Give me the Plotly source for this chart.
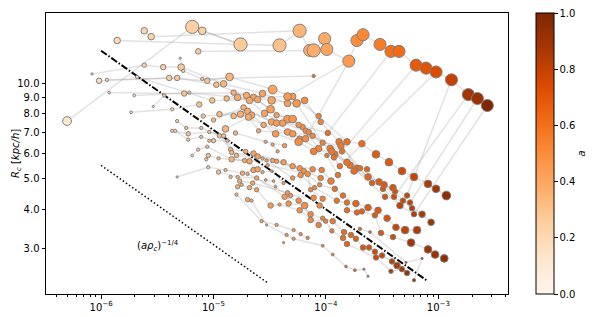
import math
import plotly.graph_objects as go

# ---------------- data ----------------
# core density rho_c, core radius R_c [kpc/h], scale factor a, marker size; one line per halo track
rho = [
    4.98e-7, 6.47e-6, 1.74e-5, 3.87e-5, 5.84e-5, 7.17e-5, 7.78e-5, 9.75e-5, 1.02e-4, 1.60e-4, 1.89e-4, 2.14e-4, 3.03e-4, 3.79e-4, 4.47e-4, 6.34e-4, 7.78e-4, 9.55e-4, 1.31e-3, 1.85e-3, 2.23e-3, 2.73e-3,
    2.42e-6, 2.79e-6,
    1.39e-6,
    7.94e-6,
    7.31e-6,
    9.6e-7, 4.04e-6, 8.80e-6, 1.39e-5, 3.36e-5, 5.06e-5, 8.62e-5, 1.54e-4, 2.09e-4, 2.79e-4, 3.64e-4, 4.75e-4, 6.08e-4, 8.10e-4, 9.55e-4, 1.18e-3,
    8.3e-7, 2.42e-6, 3.57e-6, 5.16e-6, 1.23e-5, 2.73e-5, 4.56e-5, 6.47e-5, 8.98e-5, 1.31e-4, 1.89e-4, 2.37e-4, 3.29e-4, 4.04e-4,
    1.13e-6, 4.75e-6, 1.06e-5, 1.97e-5, 3.29e-5, 5.49e-5, 9.36e-5, 1.36e-4, 2.01e-4, 2.57e-4, 3.95e-4, 5.27e-4,
    1.18e-6, 5.49e-6, 1.51e-5, 2.27e-5, 3.22e-5, 4.56e-5, 6.21e-5, 8.62e-5, 1.20e-4, 1.78e-4, 2.97e-4, 4.12e-4, 4.85e-4, 5.84e-4, 7.17e-4, 8.62e-4,
    1.97e-6, 6.08e-6, 1.64e-5, 2.09e-5, 2.85e-5, 4.12e-5, 6.60e-5, 1.09e-4, 1.64e-4, 2.32e-4, 3.22e-4, 4.56e-4, 6.08e-4,
    2.09e-6, 9.75e-6, 2.47e-5, 3.64e-5, 5.06e-5, 7.02e-5, 1.13e-4, 1.54e-4, 3.36e-4, 5.60e-4,
    8.10e-6, 1.74e-5, 2.79e-5, 4.56e-5, 7.62e-5, 1.39e-4,
    1.0e-5, 1.85e-5, 3.29e-5, 5.72e-5, 1.04e-4,
    1.13e-5, 2.01e-5, 3.64e-5, 5.84e-5, 1.18e-4, 1.33e-4,
    1.51e-5, 2.18e-5, 3.57e-5, 5.72e-5, 7.78e-5, 1.02e-4, 1.28e-4,
    1.28e-5, 2.05e-5, 2.52e-5, 5.06e-5, 6.60e-5,
    1.57e-5, 2.91e-5, 4.29e-5,
    1.31e-5, 4.56e-5,
    1.85e-6, 4.29e-6, 7.47e-6,
    2.91e-6, 3.64e-6,
    5.06e-6, 5.38e-6, 7.94e-6, 7.78e-5,
    4.75e-6, 5.72e-6, 7.78e-6, 1.13e-5, 1.42e-5, 1.93e-5, 2.27e-5, 4.20e-5, 5.06e-5, 7.62e-5, 9.17e-5, 1.11e-4,
    4.29e-6, 5.96e-6, 9.17e-6, 1.23e-5, 1.45e-5, 2.47e-5, 3.64e-5, 5.84e-5, 8.98e-5,
    4.56e-6, 5.96e-6, 7.78e-6, 1.0e-5, 1.33e-5, 1.60e-5, 2.73e-5, 3.36e-5, 6.34e-5, 8.80e-5, 1.20e-4, 1.42e-4, 1.85e-4, 2.37e-4, 2.91e-4, 3.50e-4, 4.20e-4, 5.06e-4, 6.47e-4,
    6.47e-6, 7.31e-6, 8.80e-6, 1.45e-5, 2.09e-5, 2.97e-5, 5.06e-5, 5.96e-5, 7.94e-5, 1.25e-4, 1.54e-4, 1.54e-4, 1.89e-4, 2.09e-4, 2.73e-4, 3.09e-4, 3.95e-4, 5.72e-4, 8.10e-4, 9.36e-4, 1.13e-3,
    4.75e-6, 8.98e-6, 1.28e-5, 1.81e-5, 2.27e-5, 3.03e-5, 6.88e-5, 7.31e-5, 9.36e-5,
    1.11e-5, 1.64e-5, 2.42e-5, 4.29e-5, 5.72e-5, 7.31e-5, 9.36e-5, 1.15e-4, 1.45e-4, 1.67e-4, 1.85e-4, 2.14e-4, 2.42e-4, 2.73e-4, 3.16e-4, 3.87e-4, 4.29e-4, 5.27e-4,
    1.71e-5, 2.23e-5, 4.56e-5, 4.66e-5, 6.47e-5, 7.31e-5, 9.95e-5, 1.13e-4, 1.42e-4, 1.54e-4, 2.79e-4, 3.79e-4, 4.75e-4,
    1.64e-5, 1.78e-5, 2.09e-5, 2.42e-5, 3.22e-5, 3.87e-5, 5.84e-5, 8.62e-5,
    2.01e-5, 4.85e-5, 7.78e-5, 8.80e-5,
    8.62e-6, 8.98e-6, 1.11e-5, 1.89e-5, 2.47e-5,
    1.42e-5,
    1.60e-5, 2.68e-5, 3.64e-5, 5.16e-5, 5.96e-5, 6.88e-5,
    2.01e-5, 2.18e-5, 2.97e-5, 4.47e-5, 5.16e-5, 9.36e-5, 1.15e-4, 1.51e-4, 1.81e-4, 2.18e-4, 2.37e-4,
    2.73e-5, 3.29e-5, 4.20e-5,
    2.91e-5, 3.42e-5, 3.57e-5,
    2.01e-4, 2.47e-4, 5.16e-4, 7.17e-4, 6.08e-4,
    9.17e-6,
    3.36e-5, 3.72e-5,
    4.20e-5,
]
rc = [
    7.59, 15.04, 13.24, 13.15, 14.62, 12.68, 12.68, 13.81, 12.77, 11.73, 13.62, 14.21, 13.24, 12.59, 12.59, 11.39, 11.15, 10.84, 10.24, 9.20, 8.94, 8.50,
    14.62, 14.01,
    13.62,
    14.62,
    12.59,
    10.17, 10.38, 10.17, 10.46, 9.54, 9.07, 7.87, 6.53, 6.44, 5.96, 5.63, 5.28, 5.06, 4.81, 4.64, 4.42,
    10.69, 11.39, 11.23, 11.23, 9.95, 9.27, 8.63, 8.82, 7.54, 6.53, 5.39, 5.06, 4.78, 4.38,
    10.24, 10.38, 9.88, 9.14, 8.82, 8.63, 6.49, 6.35, 5.39, 4.84, 4.68, 4.42,
    9.33, 9.27, 9.33, 9.01, 8.27, 7.70, 7.27, 6.22, 5.96, 5.28, 4.88, 4.55, 4.26, 4.03, 3.86, 3.64,
    9.14, 9.33, 9.01, 8.82, 8.03, 7.48, 7.07, 6.22, 5.51, 5.35, 4.64, 4.11, 3.86,
    10.46, 8.82, 8.88, 7.92, 7.70, 7.01, 6.09, 5.63, 4.38, 4.20,
    7.87, 7.98, 7.38, 7.01, 6.82, 6.09,
    7.65, 8.38, 7.54, 7.38, 6.96,
    7.98, 8.15, 7.48, 6.68, 5.83, 5.47,
    7.87, 7.92, 6.92, 6.53, 6.09, 5.91, 5.13,
    7.17, 7.81, 7.07, 6.92, 6.68,
    6.96, 6.53, 6.35,
    8.94, 9.07,
    8.09, 8.27, 8.56,
    8.44, 9.14,
    11.98, 10.92, 10.31, 10.53,
    7.59, 7.22, 7.22, 6.82, 6.17, 6.09, 6.00, 5.63, 5.47, 5.35, 5.32, 4.91,
    7.07, 6.92, 7.01, 6.82, 6.04, 5.87, 5.67, 5.39, 5.02,
    7.07, 6.63, 6.77, 6.58, 6.58, 5.91, 5.79, 5.70, 5.28, 4.78, 4.64, 4.42, 4.17, 4.05, 3.97, 3.75, 3.51, 3.44, 3.44,
    5.91, 6.17, 6.30, 5.75, 5.67, 5.70, 5.02, 5.13, 4.68, 4.26, 4.20, 3.97, 3.91, 3.94, 3.83, 3.37, 3.27, 3.14, 2.99, 2.88, 2.80,
    5.06, 5.43, 5.32, 5.20, 5.32, 5.51, 5.17, 4.61, 4.32,
    5.24, 5.06, 5.02, 4.38, 4.26, 3.86, 3.75, 3.67, 3.39, 3.32, 3.23, 3.03, 3.03, 2.94, 2.86, 2.74, 2.66, 2.52,
    4.91, 4.84, 4.51, 4.17, 4.11, 3.70, 3.67, 3.42, 3.25, 3.11, 2.82, 2.55, 2.59,
    4.71, 4.78, 4.68, 4.61, 4.11, 4.14, 3.97, 3.57,
    5.17, 4.42, 4.35, 4.11,
    5.75, 5.91, 5.79, 5.70, 5.35,
    5.06,
    4.45, 3.67, 3.57, 3.44, 3.34, 3.25,
    4.29, 4.26, 3.57, 3.32, 3.23, 3.07, 2.88, 2.64, 2.57, 2.59, 2.46,
    5.24, 5.28, 4.84,
    4.95, 4.91, 4.71,
    3.47, 3.39, 2.72, 2.80, 2.39,
    6.58,
    6.40, 6.09,
    3.14,
]
a_val = [
    0.12, 0.25, 0.27, 0.30, 0.35, 0.37, 0.38, 0.39, 0.41, 0.45, 0.50, 0.52, 0.56, 0.60, 0.62, 0.68, 0.71, 0.74, 0.80, 0.88, 0.92, 1.00,
    0.22, 0.23,
    0.20,
    0.25,
    0.27,
    0.18, 0.26, 0.30, 0.35, 0.42, 0.46, 0.55, 0.60, 0.62, 0.68, 0.70, 0.75, 0.78, 0.85, 0.88, 0.95,
    0.15, 0.22, 0.25, 0.27, 0.35, 0.42, 0.45, 0.50, 0.55, 0.58, 0.62, 0.65, 0.70, 0.75,
    0.18, 0.28, 0.33, 0.40, 0.42, 0.47, 0.55, 0.58, 0.62, 0.67, 0.72, 0.78,
    0.18, 0.30, 0.37, 0.42, 0.43, 0.45, 0.50, 0.55, 0.60, 0.62, 0.68, 0.73, 0.78, 0.82, 0.86, 0.90,
    0.20, 0.30, 0.40, 0.40, 0.42, 0.45, 0.50, 0.58, 0.60, 0.65, 0.70, 0.80, 0.84,
    0.20, 0.32, 0.42, 0.43, 0.47, 0.52, 0.58, 0.60, 0.72, 0.80,
    0.30, 0.38, 0.40, 0.45, 0.53, 0.60,
    0.32, 0.38, 0.43, 0.48, 0.60,
    0.33, 0.40, 0.45, 0.50, 0.60, 0.61,
    0.35, 0.40, 0.45, 0.50, 0.55, 0.58, 0.59,
    0.35, 0.40, 0.41, 0.47, 0.50,
    0.35, 0.40, 0.45,
    0.35, 0.45,
    0.18, 0.25, 0.30,
    0.20, 0.24,
    0.22, 0.25, 0.28, 0.60,
    0.25, 0.28, 0.30, 0.32, 0.35, 0.40, 0.42, 0.45, 0.47, 0.52, 0.55, 0.56,
    0.25, 0.30, 0.30, 0.33, 0.35, 0.43, 0.45, 0.48, 0.55,
    0.25, 0.28, 0.30, 0.32, 0.33, 0.36, 0.42, 0.43, 0.50, 0.53, 0.60, 0.61, 0.65, 0.68, 0.70, 0.72, 0.78, 0.80, 0.85,
    0.25, 0.28, 0.30, 0.36, 0.42, 0.43, 0.47, 0.50, 0.52, 0.60, 0.62, 0.63, 0.65, 0.67, 0.69, 0.70, 0.75, 0.88, 0.90, 0.92, 0.95,
    0.20, 0.30, 0.33, 0.38, 0.43, 0.43, 0.50, 0.52, 0.55,
    0.32, 0.36, 0.43, 0.45, 0.50, 0.52, 0.55, 0.58, 0.62, 0.64, 0.66, 0.70, 0.72, 0.75, 0.78, 0.82, 0.85, 0.90,
    0.37, 0.42, 0.47, 0.48, 0.50, 0.52, 0.55, 0.58, 0.62, 0.65, 0.76, 0.85, 0.87,
    0.37, 0.38, 0.40, 0.43, 0.45, 0.45, 0.50, 0.55,
    0.38, 0.48, 0.52, 0.53,
    0.28, 0.30, 0.32, 0.40, 0.43,
    0.35,
    0.35, 0.42, 0.45, 0.48, 0.50, 0.52,
    0.40, 0.41, 0.43, 0.47, 0.48, 0.55, 0.58, 0.62, 0.65, 0.68, 0.70,
    0.40, 0.42, 0.45,
    0.42, 0.43, 0.45,
    0.62, 0.65, 0.80, 0.85, 0.90,
    0.30,
    0.42, 0.43,
    0.50,
]
msize = [
    8, 12, 12, 12, 12, 11, 12, 11, 11, 11, 11, 11, 11, 11, 11, 11, 11, 11, 11, 11, 11, 11,
    6, 6,
    6,
    7,
    5,
    5, 5, 5, 7, 8, 6, 5, 6, 6, 7, 7, 7, 7, 7, 7, 8,
    2, 4, 5, 6, 6, 6, 6, 6, 5, 6, 6, 6, 6, 5,
    3, 5, 5, 6, 7, 7, 5, 6, 5, 5, 6, 5,
    2.5, 5, 5, 6, 7, 7, 5, 6, 6, 6, 6, 5, 5, 5, 6, 6,
    2.5, 3, 6, 6, 6, 6, 5, 6, 6, 5, 5, 6, 5,
    3, 5, 6, 5, 7, 5, 6, 6, 5, 5,
    4, 6, 5, 6, 5, 5,
    4, 5, 6, 5, 5,
    5, 6, 6, 5, 5, 5,
    5, 6, 6, 7, 6, 4, 5,
    6, 6, 4, 6, 6,
    4, 3, 4,
    5, 7,
    2.5, 3, 5,
    2, 3,
    2, 3, 3, 3,
    3, 3, 3, 4, 4, 4, 5, 5, 5, 5, 5, 6,
    3, 4, 3, 4, 4, 5, 4, 5, 5,
    3, 3, 3, 4, 3, 4, 3, 4, 5, 4, 5, 5, 6, 6, 6, 6, 6, 7, 7,
    2.5, 3, 3, 5, 5, 3, 4, 5, 4, 5, 5, 5, 5, 5, 5, 5, 5, 7, 7, 7, 7,
    2, 3, 3, 4, 5, 3, 5, 4, 5,
    4, 3, 4, 5, 5, 5, 4, 5, 5, 5, 5, 5, 5, 5, 5, 5, 6, 5,
    4, 4, 4, 5, 6, 5, 4, 4, 5, 5, 5, 4, 5,
    4, 3, 4, 4, 5, 3, 5, 5,
    3, 4, 5, 5,
    3, 4, 3, 4, 5,
    3,
    3, 3, 3, 3, 3, 3,
    4, 3, 2, 3, 3, 2.5, 2.5, 2.5, 2.5, 2, 2,
    3, 2.5, 3,
    2.5, 2.5, 2.5,
    3, 2.5, 2, 2, 3,
    3,
    3, 3,
    2,
]
# number of points in each halo track (in the order above)
halo_sizes = [22, 2, 1, 1, 1, 16, 14, 12, 16, 13, 10, 6, 5, 6, 7, 5, 3, 2, 3, 2, 4,
              12, 9, 19, 21, 9, 18, 13, 8, 4, 5, 1, 6, 11, 3, 3, 5, 1, 2, 1]
# halos merging into the main halo (track 0) at scale factor merge_at_a
merge_halo = [1, 2, 3, 4, 6, 7, 9, 10, 11, 12, 13, 15, 17]
merge_at_a = [0.35, 0.27, 0.27, 0.38, 0.88, 0.80, 1.00, 0.92, 0.68, 0.60, 0.74, 0.45, 0.45]

# reference power laws R ~ amp * rho^slope
guide_slope = -0.25
dashdot_rho = [1.0e-6, 8.0e-4]
dashdot_amp = 0.40
dotted_rho = [1.0e-6, 3.0e-5]
dotted_amp = 0.174
label_rho, label_rc = 3.2e-6, 3.07

x_tickvals = [1e-6, 1e-5, 1e-4, 1e-3]
x_ticktext = ["10<sup>−6</sup>", "10<sup>−5</sup>", "10<sup>−4</sup>", "10<sup>−3</sup>"]
y_tickvals = [3, 4, 5, 6, 7, 8, 9, 10]
y_ticktext = ["3.0", "4.0", "5.0", "6.0", "7.0", "8.0", "9.0", "10.0"]
cb_tickvals = [0.0, 0.2, 0.4, 0.6, 0.8, 1.0]
cb_ticktext = ["0.0", "0.2", "0.4", "0.6", "0.8", "1.0"]

oranges = ["#fff5eb", "#fee6ce", "#fdd0a2", "#fdae6b", "#fd8d3c",
           "#f16913", "#d94801", "#a63603", "#7f2704"]
colorscale = [[i / 8, c] for i, c in enumerate(oranges)]

# ---------------- build figure ----------------
halo = []
for h, n in enumerate(halo_sizes):
    halo += [h] * n
N = len(rho)
assert len(rc) == N and len(a_val) == N and len(msize) == N and len(halo) == N, (N, len(rc), len(a_val), len(msize), len(halo))

fig = go.Figure()
FONT = "DejaVu Sans"
FS = 10
line_col = "rgba(150,150,150,0.28)"

main_idx = [i for i in range(N) if halo[i] == 0]
for h in range(len(halo_sizes)):
    idx = sorted([i for i in range(N) if halo[i] == h], key=lambda i: a_val[i])
    if h in merge_halo:
        ta = merge_at_a[merge_halo.index(h)]
        j = min(main_idx, key=lambda k: abs(a_val[k] - ta))
        idx = idx + [j]
    if len(idx) < 2:
        continue
    fig.add_trace(go.Scatter(
        x=[rho[i] for i in idx], y=[rc[i] for i in idx], mode="lines",
        line=dict(color=line_col, width=1.5), hoverinfo="skip", showlegend=False))

# guide lines
fig.add_trace(go.Scatter(
    x=dashdot_rho, y=[dashdot_amp * r ** guide_slope for r in dashdot_rho], mode="lines",
    line=dict(color="black", width=2, dash="7px,2px,1.5px,2px"), showlegend=False))
fig.add_trace(go.Scatter(
    x=dotted_rho, y=[dotted_amp * r ** guide_slope for r in dotted_rho], mode="lines",
    line=dict(color="black", width=1.5, dash="1.5px,2.3px"), showlegend=False))

fig.add_trace(go.Scatter(
    x=rho, y=rc, mode="markers", showlegend=False,
    marker=dict(size=[s * 1.1 for s in msize], color=a_val, colorscale=colorscale,
                cmin=0.0, cmax=1.0,
                line=dict(color="grey", width=1), opacity=1,
                colorbar=dict(thickness=18, len=1.0, lenmode="fraction", y=0.5, yanchor="middle",
                              x=1.061, xanchor="left", xpad=0, ypad=0,
                              outlinewidth=1, outlinecolor="black",
                              tickmode="array", tickvals=cb_tickvals, ticktext=cb_ticktext,
                              ticks="outside", ticklen=3.5, tickwidth=1, tickcolor="black",
                              ticklabeloverflow="allow",
                              tickfont=dict(family=FONT, size=FS, color="black"))),
))

fig.add_annotation(x=math.log10(label_rho), y=math.log10(label_rc), xref="x", yref="y",
                   text="(<i>aρ</i><sub><i>c</i></sub>)<sup>−1/4</sup>", showarrow=False,
                   font=dict(family=FONT, size=FS, color="black"))
fig.add_annotation(x=-38 / 462, y=0.5, xref="paper", yref="paper", textangle=-90,
                   xanchor="left", yanchor="middle",
                   text="<i>R</i><sub><i>c</i></sub> [<i>kpc/h</i>]", showarrow=False,
                   font=dict(family=FONT, size=FS, color="black"))
fig.add_annotation(x=1.160, y=0.5, xref="paper", yref="paper", textangle=-90,
                   xanchor="center", yanchor="middle",
                   text="<i>a</i>", showarrow=False,
                   font=dict(family=FONT, size=FS, color="black"))

minor_x = [k * 10.0 ** e for e in range(-7, -1) for k in range(2, 10)]
minor_x = [v for v in minor_x if 3.3e-7 < v < 4.1e-3]

fig.update_xaxes(type="log", range=[-6.49, -2.38], showgrid=False, zeroline=False,
                 showline=True, linecolor="black", linewidth=1, mirror=True,
                 tickmode="array", tickvals=x_tickvals, ticktext=x_ticktext,
                 ticks="outside", ticklen=3.5, tickwidth=1, tickcolor="black",
                 tickfont=dict(family=FONT, size=FS, color="black"),
                 minor=dict(tickmode="array", tickvals=minor_x, ticks="outside",
                            ticklen=2, tickwidth=0.8, tickcolor="black", showgrid=False))
fig.update_yaxes(type="log", range=[0.335, 1.221], showgrid=False, zeroline=False,
                 showline=True, linecolor="black", linewidth=1, mirror=True,
                 tickmode="array", tickvals=y_tickvals, ticktext=y_ticktext,
                 ticks="outside", ticklen=3.5, tickwidth=1, tickcolor="black",
                 tickfont=dict(family=FONT, size=FS, color="black"))

# the page body adds an 8 px margin, so the figure is 8 px smaller and margins shifted
fig.update_layout(width=590, height=309, autosize=False,
                  margin=dict(l=38, r=90, t=4, b=19),
                  paper_bgcolor="white", plot_bgcolor="white",
                  font=dict(family=FONT, size=FS, color="black"))

fig.write_html("out.html", config={"displayModeBar": False})
